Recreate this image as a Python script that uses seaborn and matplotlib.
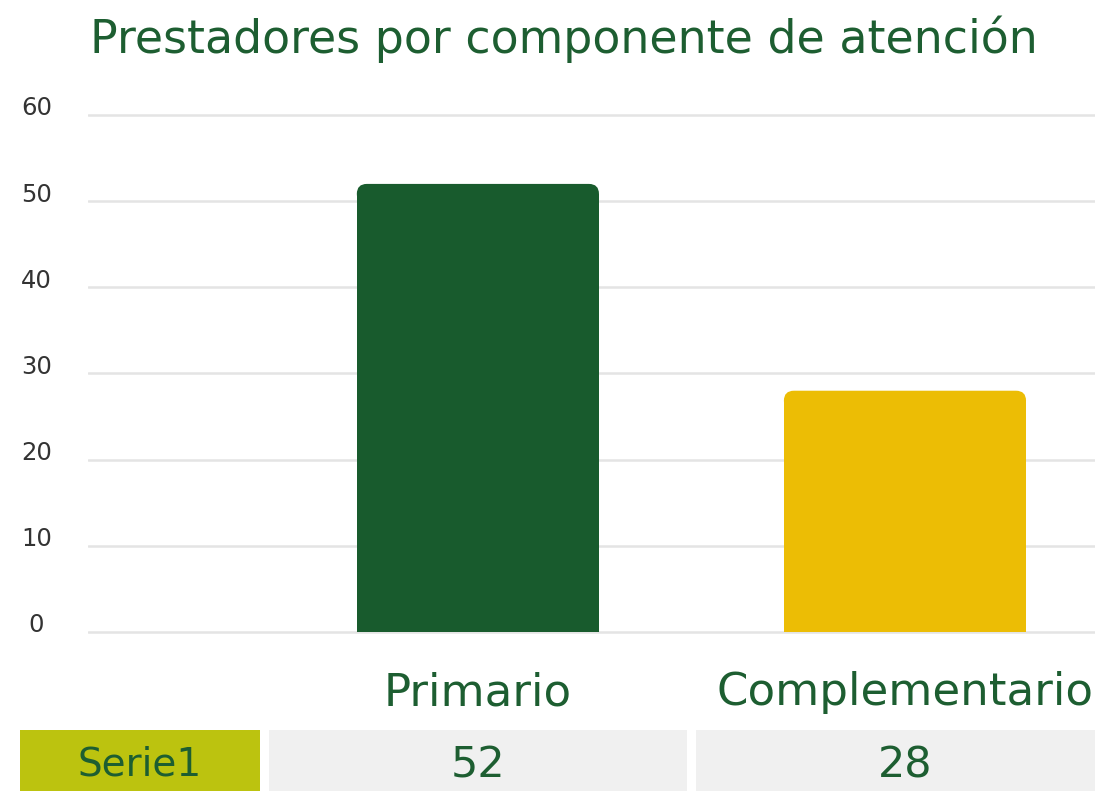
import matplotlib
matplotlib.use("Agg")
import matplotlib.pyplot as plt
import matplotlib.transforms as mtransforms
from matplotlib.patches import FancyBboxPatch, Rectangle
import seaborn as sns
import pandas as pd

# data
title = "Prestadores por componente de atención"
categories = ["Primario", "Complementario"]
values = [52, 28]
series_name = "Serie1"
bar_colors = ["#185b2d", "#ecbd05"]
y_ticks = [0, 10, 20, 30, 40, 50, 60]

TEXT_GREEN = "#1d5e31"
W, H = 1095, 791

sns.set_theme(style="white")
plt.rcParams["font.family"] = ["DejaVu Sans"]

fig = plt.figure(figsize=(W / 100, H / 100), dpi=100)
fig.patch.set_facecolor("white")

# pixel layout of the plot area (0 at y=632px, 8.617 px per unit)
ppu = 8.617
y_lo, y_hi = -1, 62
ax_bot = 632 + (-y_lo) * ppu
ax_top = 632 - y_hi * ppu
ax = fig.add_axes([88 / W, (H - ax_bot) / H, 1 - 88 / W, (ax_bot - ax_top) / H])

df = pd.DataFrame({"componente": categories, "prestadores": values})
sns.barplot(data=df, x="componente", y="prestadores", hue="componente",
            palette=dict(zip(categories, bar_colors)), width=0.567,
            saturation=1, legend=False, ax=ax)

ax.set_xlim(-0.913, 1.445)
ax.set_ylim(y_lo, y_hi)

# rounded tops on the bars
rx = 10 / 427
ry = 10 / ppu
for p in list(ax.patches):
    x, w, h = p.get_x(), p.get_width(), p.get_height()
    col = p.get_facecolor()
    p.set_height(h - ry)
    p.set_edgecolor("none")
    ax.add_patch(FancyBboxPatch((x, h - 2 * ry), w, 2 * ry,
                                boxstyle=f"round,pad=0,rounding_size={rx}",
                                mutation_aspect=ry / rx, facecolor=col,
                                edgecolor="none", zorder=p.get_zorder()))

ax.set_yticks(y_ticks)
ax.set_yticklabels([str(t) for t in y_ticks], fontsize=17.5, color="#333333", ha="center")
ax.tick_params(axis="y", length=0, pad=37)
for lab in ax.get_yticklabels():
    lab.set_transform(lab.get_transform() + mtransforms.ScaledTranslation(0, 0.09, fig.dpi_scale_trans))
ax.yaxis.grid(True, color="#e4e4e4", lw=1.8)
ax.xaxis.grid(False)
ax.set_axisbelow(True)
ax.set_xticks([])
ax.set_xlabel("")
ax.set_ylabel("")
for s in ax.spines.values():
    s.set_visible(False)

fig.text(564 / W, 1 - 39 / H, title, ha="center", va="center",
         fontsize=33, color=TEXT_GREEN)

# category labels and data table under the plot
xfig = mtransforms.blended_transform_factory(ax.transData, fig.transFigure)
for i, (cat, val) in enumerate(zip(categories, values)):
    ax.text(i, 1 - 693 / H, cat, transform=xfig, ha="center", va="center",
            fontsize=32.5, color=TEXT_GREEN, clip_on=False)
    ax.add_patch(Rectangle((i - 0.49, 0), 0.98, (H - 730) / H, transform=xfig,
                           facecolor="#f0f0f0", edgecolor="none", clip_on=False))
    ax.text(i, 1 - 765 / H, str(val), transform=xfig, ha="center", va="center",
            fontsize=31, color=TEXT_GREEN, clip_on=False)

fig.patches.append(Rectangle((20 / W, 0), 240 / W, (H - 730) / H,
                             transform=fig.transFigure, facecolor="#bcc30f",
                             edgecolor="none"))
fig.text(140 / W, 1 - 765 / H, series_name, ha="center", va="center",
         fontsize=28, color=TEXT_GREEN)

fig.savefig("out.png", dpi=100, facecolor="white")
